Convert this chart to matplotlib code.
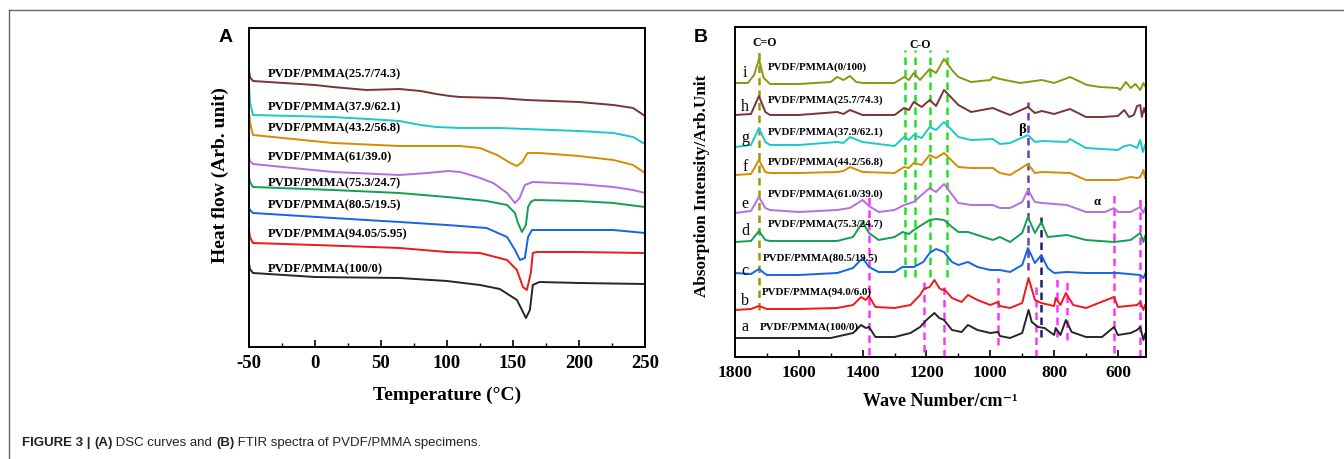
import matplotlib
matplotlib.use("Agg")
from matplotlib import pyplot as plt
from matplotlib.lines import Line2D
from matplotlib.ticker import MultipleLocator

plt.rcParams['axes.unicode_minus'] = False

SERIF = ['Liberation Serif', 'DejaVu Serif']
SANS = ['Liberation Sans', 'DejaVu Sans']
NARROW = ['Liberation Sans Narrow', 'Liberation Sans', 'DejaVu Sans']

# ---------------- panel A : DSC (temperature C, heat flow arb.) ----------------
dsc_labels = ['PVDF/PMMA(25.7/74.3)', 'PVDF/PMMA(37.9/62.1)', 'PVDF/PMMA(43.2/56.8)',
              'PVDF/PMMA(61/39.0)', 'PVDF/PMMA(75.3/24.7)', 'PVDF/PMMA(80.5/19.5)',
              'PVDF/PMMA(94.05/5.95)', 'PVDF/PMMA(100/0)']
dsc_colors = ['#7a3434', '#1cc8cc', '#d48c00', '#b46ee0', '#12a050', '#1464e6', '#f01818', '#262626']
dsc_label_y = [273, 240, 219, 190, 164, 142, 113, 78]

t_257 = [-50, -49.3, -47, 0, 13.6, 39, 64, 80, 92, 102, 110, 140, 160, 200, 226, 241, 250]
hf_257 = [277, 270, 266, 262, 260, 257, 258, 256, 253, 251, 250, 249, 247, 245, 242, 239, 231]
t_379 = [-50, -49.3, -47, 13.6, 40, 64, 80, 92, 110, 140, 200, 226, 241, 250]
hf_379 = [262, 245, 232, 230, 228, 226, 222, 220, 219, 219, 216, 214, 210, 203]
t_432 = [-50, -49.3, -47, 13.6, 64, 110, 125, 138, 148, 153, 157, 161, 170, 200, 226, 241, 250]
hf_432 = [235, 225, 212, 204, 201, 201, 199, 192, 184, 181, 185, 194, 194, 191, 187, 182, 174]
t_610 = [-50, -49.3, -47, 13.6, 64, 85, 101, 110, 123, 135, 145.5, 151.5, 155, 159, 165, 200, 226, 241, 250]
hf_610 = [190, 186, 183, 175, 172, 174, 176, 175, 170, 164, 154, 144, 149, 162, 165, 163, 160, 157, 154]
t_753 = [-50, -49.3, -47, 13.6, 64, 100, 130, 145.5, 151.5, 153.8, 156.8, 159.8, 161.4, 163.5, 166, 200, 226, 250]
hf_753 = [170, 165, 160, 157, 154, 150, 146, 142, 134, 124, 115, 122, 140, 145, 147, 146, 144, 140]
t_805 = [-50, -49.3, -47, 13.6, 64, 100, 130, 145.5, 151.5, 155.3, 159, 161.4, 164.4, 200, 226, 250]
hf_805 = [139, 137, 134, 129, 125, 122, 119, 110, 97, 87, 89, 110, 117, 117, 117, 114]
t_9405 = [-50, -49.3, -47, 0, 64, 100, 125, 145.5, 153, 157.5, 160.5, 163.5, 165, 168, 200, 250]
hf_9405 = [117, 110, 104, 102, 99, 95, 94, 87, 77, 60, 57, 74, 94, 95, 95, 94]
t_100 = [-50, -49.3, -47, 0, 64, 100, 125, 140, 153, 156.8, 159.8, 162.8, 165, 170, 200, 250]
hf_100 = [84, 78, 74, 70, 69, 66, 62, 58, 47, 37, 29, 37, 62, 65, 64, 63]

dsc_t = [t_257, t_379, t_432, t_610, t_753, t_805, t_9405, t_100]
dsc_hf = [hf_257, hf_379, hf_432, hf_610, hf_753, hf_805, hf_9405, hf_100]

# ---------------- panel B : FTIR (wavenumber, absorbance arb.) ----------------
ftir_letters = ['i', 'h', 'g', 'f', 'e', 'd', 'c', 'b', 'a']
ftir_labels = ['PVDF/PMMA(0/100)', 'PVDF/PMMA(25.7/74.3)', 'PVDF/PMMA(37.9/62.1)',
               'PVDF/PMMA(44.2/56.8)', 'PVDF/PMMA(61.0/39.0)', 'PVDF/PMMA(75.3/24.7)',
               'PVDF/PMMA(80.5/19.5)', 'PVDF/PMMA(94.0/6.0)', 'PVDF/PMMA(100/0)']
ftir_colors = ['#8c9610', '#7a3434', '#1cc8cc', '#d48c00', '#b46ee0', '#12a050', '#1464e6', '#f01818', '#262626']
ftir_label_x = [1697, 1697, 1697, 1697, 1697, 1697, 1712, 1715, 1722]
ftir_label_y = [290, 257, 225, 195, 163, 133, 99, 65, 30]
ftir_letter_y = [284, 250, 219, 190, 153, 126, 86, 56, 30]

wn_i = [1800, 1760, 1740, 1725, 1710, 1690, 1600, 1500, 1480, 1460, 1440, 1420, 1400, 1300, 1285, 1270, 1255,
        1240, 1220, 1190, 1170, 1145, 1120, 1100, 1060, 1000, 992, 970, 907, 838, 800, 750, 697, 656, 600,
        593, 575, 560, 545, 530, 520, 515]
ab_i = [274, 274, 282, 298, 279, 273, 273, 275, 280, 277, 281, 275, 274, 274, 277, 280, 277,
        284, 277, 288, 284, 298, 287, 280, 275, 277, 280, 278, 274, 277, 274, 280, 272, 270, 269,
        267, 275, 269, 273, 267, 274, 271]
wn_h = [1800, 1750, 1725, 1705, 1690, 1600, 1480, 1460, 1440, 1400, 1300, 1270, 1255, 1240, 1215, 1190, 1170,
        1145, 1100, 1060, 992, 970, 938, 882, 860, 838, 800, 750, 700, 650, 600, 580, 565, 550, 540, 530,
        525, 518, 515]
ab_h = [242, 243, 261, 245, 242, 242, 245, 243, 247, 242, 242, 249, 247, 255, 250, 257, 251,
        267, 252, 245, 249, 246, 242, 250, 244, 246, 243, 248, 240, 240, 241, 247, 240, 242, 251, 252,
        240, 249, 245]
wn_g = [1800, 1750, 1725, 1705, 1690, 1600, 1480, 1460, 1440, 1400, 1300, 1270, 1255, 1240, 1215, 1190, 1170,
        1145, 1100, 1060, 992, 970, 938, 882, 860, 838, 760, 750, 700, 600, 580, 560, 540, 530, 522, 515]
ab_g = [210, 212, 229, 215, 212, 212, 215, 214, 220, 215, 211, 220, 217, 222, 219, 230, 227,
        235, 220, 217, 218, 213, 214, 222, 215, 216, 215, 218, 209, 207, 211, 212, 209, 217, 205, 212]
wn_f = [1800, 1750, 1725, 1705, 1690, 1600, 1480, 1460, 1440, 1400, 1300, 1270, 1255, 1240, 1215, 1190, 1170,
        1145, 1100, 1060, 992, 970, 938, 882, 860, 838, 750, 700, 600, 560, 540, 530, 520, 515]
ab_f = [182, 183, 197, 185, 184, 184, 185, 186, 190, 185, 184, 190, 189, 194, 192, 202, 199,
        204, 190, 189, 189, 184, 182, 193, 184, 185, 184, 177, 177, 180, 179, 180, 187, 179]
wn_e = [1800, 1750, 1725, 1705, 1690, 1600, 1480, 1440, 1400, 1380, 1350, 1300, 1270, 1240, 1190, 1170, 1145,
        1100, 1060, 992, 970, 938, 900, 882, 860, 838, 760, 700, 640, 612, 600, 560, 530, 520, 515]
ab_e = [144, 146, 160, 149, 147, 145, 147, 149, 157, 151, 145, 147, 152, 155, 169, 165, 173,
        154, 152, 152, 149, 149, 155, 167, 155, 154, 152, 145, 145, 149, 145, 145, 150, 144, 149]
wn_d = [1800, 1750, 1725, 1705, 1690, 1600, 1480, 1430, 1400, 1380, 1350, 1300, 1275, 1255, 1240, 1190, 1170,
        1145, 1120, 1100, 1070, 992, 970, 938, 900, 882, 860, 840, 820, 760, 700, 612, 560, 530, 520, 515]
ab_d = [115, 116, 126, 117, 116, 116, 116, 120, 135, 124, 117, 120, 125, 123, 127, 137, 138,
        137, 130, 125, 125, 117, 120, 115, 124, 140, 124, 135, 120, 122, 117, 115, 117, 124, 115, 121]
wn_c = [1800, 1750, 1725, 1705, 1700, 1600, 1480, 1430, 1400, 1380, 1350, 1300, 1275, 1240, 1210, 1190, 1170,
        1145, 1120, 1100, 1070, 1040, 1000, 970, 938, 900, 882, 860, 840, 820, 800, 760, 700, 600, 530, 520, 515]
ab_c = [84, 83, 88, 83, 82, 82, 84, 89, 99, 90, 85, 85, 90, 90, 95, 104, 108,
        105, 95, 92, 95, 90, 87, 87, 85, 92, 109, 94, 102, 89, 84, 85, 84, 84, 82, 79, 83]
wn_b = [1800, 1750, 1725, 1700, 1600, 1480, 1430, 1405, 1390, 1380, 1360, 1300, 1250, 1220, 1208, 1190, 1175,
        1160, 1150, 1145, 1120, 1090, 1070, 1040, 1000, 976, 970, 938, 900, 880, 860, 840, 800, 795, 780,
        763, 740, 700, 612, 600, 540, 530, 520, 515]
ab_b = [47, 48, 51, 48, 48, 49, 52, 60, 57, 61, 50, 49, 52, 62, 68, 70, 77,
        69, 67, 68, 59, 55, 62, 57, 52, 55, 51, 49, 54, 79, 57, 54, 51, 59, 52,
        64, 52, 49, 60, 50, 52, 55, 47, 52]
wn_a = [1800, 1600, 1500, 1430, 1405, 1390, 1380, 1360, 1300, 1250, 1220, 1200, 1175, 1160, 1145, 1120, 1090,
        1070, 1040, 1000, 976, 970, 938, 900, 880, 870, 850, 830, 800, 795, 780, 763, 745, 700, 650, 612,
        600, 560, 540, 530, 520, 515]
ab_a = [19, 19, 19, 24, 32, 29, 30, 20, 20, 24, 30, 37, 44, 39, 37, 27, 25,
        32, 27, 24, 25, 21, 19, 24, 47, 35, 30, 29, 22, 29, 22, 37, 25, 20, 20, 30,
        22, 24, 27, 30, 17, 23]

ftir_wn = [wn_i, wn_h, wn_g, wn_f, wn_e, wn_d, wn_c, wn_b, wn_a]
ftir_ab = [ab_i, ab_h, ab_g, ab_f, ab_e, ab_d, ab_c, ab_b, ab_a]

# reference lines: wavenumber, lower, upper
co_double = [1725]
co_double_span = (47, 307)
co_single = [1267, 1236, 1189, 1137]
co_single_span = (80, 307)
alpha_wn = [1380, 1208, 1145, 976, 856, 791, 760, 612, 530]
alpha_lo = [2, 5, 0, 12, 0, 20, 17, 4, 0]
alpha_hi = [160, 79, 75, 79, 74, 78, 77, 162, 160]
beta_wn = [882, 840]
beta_lo = [87, 20]
beta_hi = [255, 145]
beta_colors = ['#6a3cc0', '#1e1e6e']

fig = plt.figure(figsize=(13.44, 4.59), dpi=100)

# ---- A
axA = fig.add_axes([249 / 1344, 112 / 459, 396 / 1344, 319 / 459])
for t, hf, c in zip(dsc_t, dsc_hf, dsc_colors):
    axA.plot(t, hf, color=c, lw=1.4, solid_joinstyle='round')
for lab, y in zip(dsc_labels, dsc_label_y):
    axA.text(-36, y, lab, fontsize=9.1, fontweight='bold', family=SERIF, va='center', ha='left')
axA.set_xlim(-50, 250)
axA.set_ylim(0, 319)
axA.xaxis.set_major_locator(MultipleLocator(50))
axA.xaxis.set_minor_locator(MultipleLocator(25))
axA.set_yticks([])
axA.tick_params(axis='x', which='major', direction='in', length=5, width=1.2, pad=6)
axA.tick_params(axis='x', which='minor', direction='in', length=3, width=1.0)
for lab in axA.get_xticklabels():
    lab.set_fontfamily(SERIF)
    lab.set_fontweight('bold')
    lab.set_fontsize(13.5)
axA.set_xlabel('Temperature (\u00b0C)', fontsize=14, fontweight='bold', family=SERIF)
axA.xaxis.set_label_coords(0.5, -0.125)
axA.set_ylabel('Heat flow (Arb. unit)', fontsize=14, fontweight='bold', family=SERIF)
axA.yaxis.set_label_coords(-0.05, 0.54)
for s in axA.spines.values():
    s.set_linewidth(1.4)

# ---- B
axB = fig.add_axes([735 / 1344, 102 / 459, 411 / 1344, 330 / 459])
axB.plot([co_double[0]] * 2, co_double_span, color='#9a9a00', lw=1.8, ls=(0, (3, 2)))
for w in co_single:
    axB.plot([w, w], co_single_span, color='#22e022', lw=1.8, ls=(0, (3, 2)))
for w, lo, hi in zip(alpha_wn, alpha_lo, alpha_hi):
    axB.plot([w, w], [lo, hi], color='#ff33ff', lw=1.8, ls=(0, (3, 2)))
for w, lo, hi, c in zip(beta_wn, beta_lo, beta_hi, beta_colors):
    axB.plot([w, w], [lo, hi], color=c, lw=1.8, ls=(0, (3, 2)))
for wn, ab, c in zip(ftir_wn, ftir_ab, ftir_colors):
    axB.plot(wn, ab, color=c, lw=1.4, solid_joinstyle='round')
for let, lab, lx, ly, ty in zip(ftir_letters, ftir_labels, ftir_label_x, ftir_label_y, ftir_letter_y):
    axB.text(1769, ty, let, fontsize=11.5, family=SERIF, va='center', ha='center')
    axB.text(lx, ly, lab, fontsize=7.8, fontweight='bold', family=SERIF, va='center', ha='left')
axB.text(1706, 314, 'C=O', fontsize=8.5, fontweight='bold', family=SERIF, va='center', ha='center')
axB.text(1220, 312, 'C-O', fontsize=8.5, fontweight='bold', family=SERIF, va='center', ha='center')
axB.text(900, 227, '\u03b2', fontsize=10.5, fontweight='bold', family=SERIF, va='center', ha='center')
axB.text(665, 155, '\u03b1', fontsize=9, fontweight='bold', family=SERIF, va='center', ha='center')
axB.set_xlim(1800, 512)
axB.set_ylim(0, 330)
axB.xaxis.set_major_locator(MultipleLocator(200))
axB.xaxis.set_minor_locator(MultipleLocator(100))
axB.set_yticks([])
axB.tick_params(axis='x', which='major', direction='in', length=5, width=1.2, pad=6)
axB.tick_params(axis='x', which='minor', direction='in', length=3, width=1.0)
for lab in axB.get_xticklabels():
    lab.set_fontfamily(SERIF)
    lab.set_fontweight('bold')
    lab.set_fontsize(12.5)
axB.set_xlabel('Wave Number/cm\u207b\u00b9', fontsize=13, fontweight='bold', family=SERIF)
axB.xaxis.set_label_coords(0.5, -0.109)
axB.set_ylabel('Absorption Intensity/Arb.Unit', fontsize=12.3, fontweight='bold', family=SERIF)
axB.yaxis.set_label_coords(-0.061, 0.52)
for s in axB.spines.values():
    s.set_linewidth(1.4)

# panel letters
fig.text(226 / 1344, (459 - 38) / 459, 'A', fontsize=14, fontweight='bold', family=SANS, ha='center', va='center')
fig.text(701 / 1344, (459 - 38) / 459, 'B', fontsize=14, fontweight='bold', family=SANS, ha='center', va='center')

# page frame
fig.add_artist(Line2D([9 / 1344, 1], [1 - 10 / 459] * 2, color='#666666', lw=1.0, transform=fig.transFigure))
fig.add_artist(Line2D([9 / 1344] * 2, [0, 1 - 10 / 459], color='#666666', lw=1.0, transform=fig.transFigure))

# caption with bold parts
caption = [('FIGURE 3 | ', 'bold'), ('(A)', 'bold'), (' DSC curves and ', 'normal'), ('(B)', 'bold'),
           (' FTIR spectra of PVDF/PMMA specimens.', 'normal')]
fig.canvas.draw()
r = fig.canvas.get_renderer()
x = 22 / 1344
for txt, w in caption:
    t = fig.text(x, (459 - 443) / 459, txt, fontsize=9.5, fontweight=w, family=NARROW,
                 color='#222222', va='center', ha='left')
    bb = t.get_window_extent(renderer=r)
    x = bb.x1 / fig.bbox.width

fig.savefig('out.png', dpi=100)
